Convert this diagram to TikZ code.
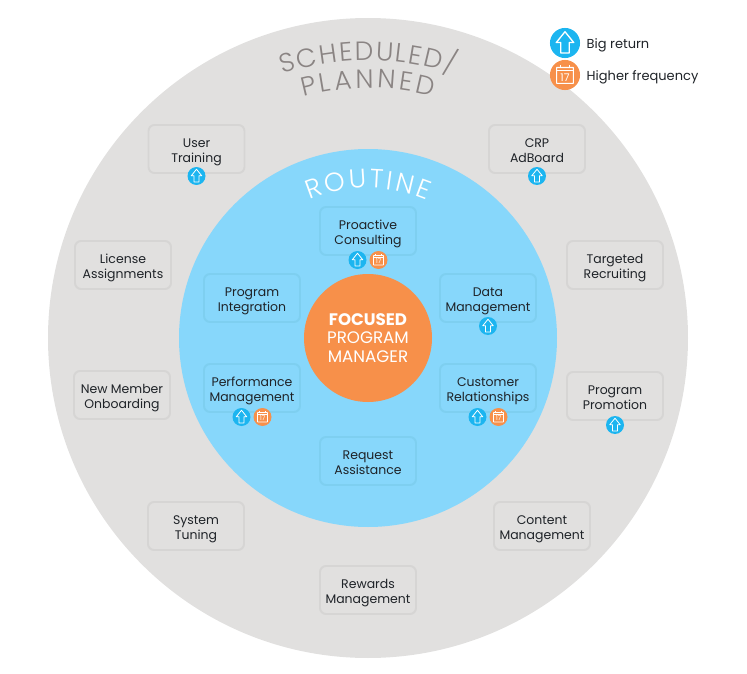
\documentclass[tikz,border=0pt]{standalone}
\usepackage{fontspec}
\setmainfont{Poppins}
\newfontfamily\thinfont{Poppins Light}
\usetikzlibrary{positioning, decorations.text}

\definecolor{outerGray}{HTML}{E1E0DF}
\definecolor{outerEdge}{HTML}{D6D5D4}
\definecolor{routineBlue}{HTML}{87D7FB}
\definecolor{routineEdge}{HTML}{7ECFF0}
\definecolor{focusOrange}{HTML}{F7904A}
\definecolor{arrowBlue}{HTML}{1CB5F0}
\definecolor{titleGray}{HTML}{8A8483}
\definecolor{inkBlack}{HTML}{1F2328}

\begin{document}
\begin{tikzpicture}[
        on grid,
        ring/.style={circle, inner sep=0pt},
        box/.style={rectangle, rounded corners=0.12cm, minimum width=1.92cm, minimum height=0.96cm, align=center, inner sep=0pt, font=\fontsize{7.1}{8.5}\selectfont, text=inkBlack, text height=17.5pt, text depth=2pt},
        graybox/.style={box, fill=outerGray, draw=outerEdge, line width=1.1pt},
        bluebox/.style={box, fill=routineBlue, draw=routineEdge, line width=1.1pt},
        upbadge/.style={circle, inner sep=0pt, fill=arrowBlue, minimum size=#1*0.36cm,
            path picture={\begin{scope}[shift={(path picture bounding box.center)}, x=#1cm, y=#1cm]
                \draw[white, line width=#1*0.45pt, line join=round] (0,0.135) -- (0.105,0.005) -- (0.05,0.005) -- (0.05,-0.12) -- (-0.05,-0.12) -- (-0.05,0.005) -- (-0.105,0.005) -- cycle;
            \end{scope}}},
        upbadge/.default=1,
        calbadge/.style={circle, inner sep=0pt, fill=focusOrange, minimum size=#1*0.36cm,
            path picture={\begin{scope}[shift={(path picture bounding box.center)}, x=#1cm, y=#1cm]
                \draw[white, line width=#1*0.4pt, rounded corners=0.2pt] (-0.1,-0.1) rectangle (0.1,0.09);
                \draw[white, line width=#1*0.4pt] (-0.1,0.05) -- (0.1,0.05) (-0.055,0.09) -- (-0.055,0.125) (0.055,0.09) -- (0.055,0.125);
                \node[white, inner sep=0pt, scale=#1, font=\fontsize{3.6}{4}\selectfont] at (0,-0.03) {17};
            \end{scope}}},
        calbadge/.default=1,
        legendlabel/.style={anchor=west, inner sep=0pt, yshift=-1.2pt, font=\fontsize{7.4}{9}\selectfont, text=inkBlack},
        outertitle/.style={decorate, decoration={text along path, text align={fit to path}, text color=titleGray, text={|\thinfont\fontsize{15}{17}\selectfont|#1}}},
        innertitle/.style={decorate, decoration={text along path, text align={fit to path}, text color=white, text={|\thinfont\fontsize{15}{17}\selectfont|#1}}}
        ]

        \useasboundingbox (0,0) rectangle (14.94,-13.48);

        \node (outerRing) [ring, fill=outerGray, minimum size=12.8cm] at (7.36,-6.76) {};
        \node (routineRing) [ring, fill=routineBlue, minimum size=7.56cm] at (outerRing.center) {};
        \node (focus) [ring, fill=focusOrange, minimum size=2.56cm, align=center, text=white, font=\fontsize{9.5}{10.5}\selectfont] at (outerRing.center) {\textbf{FOCUSED}\\PROGRAM\\MANAGER};

        % curved titles
        \path[outertitle={SCHEDULED/}] ([shift={(108:5.55)}]focus.center) arc (108:72:5.55);
        \path[outertitle={PLANNED}] ([shift={(105:5)}]focus.center) arc (105:75:5);
        \path[innertitle={ROUTINE}] ([shift={(113:3)}]focus.center) arc (113:67:3);

        % inner ring
        \node (boxProactive) [bluebox, above=2.14cm of focus] {Proactive\\Consulting};
        \node (boxIntegration) [bluebox, above left=0.8cm and 2.32cm of focus] {Program\\Integration};
        \node (boxData) [bluebox, above right=0.8cm and 2.4cm of focus] {Data\\Management};
        \node (boxPerformance) [bluebox, below left=1cm and 2.32cm of focus] {Performance\\Management};
        \node (boxCustomer) [bluebox, below right=1cm and 2.4cm of focus] {Customer\\Relationships};
        \node (boxRequest) [bluebox, below=2.46cm of focus] {Request\\Assistance};

        % outer ring
        \node (boxUser) [graybox, above left=3.78cm and 3.43cm of focus] {User\\Training};
        \node (boxCrp) [graybox, above right=3.78cm and 3.38cm of focus] {CRP\\AdBoard};
        \node (boxLicense) [graybox, above left=1.46cm and 4.9cm of focus] {License\\Assignments};
        \node (boxTargeted) [graybox, above right=1.46cm and 4.94cm of focus] {Targeted\\Recruiting};
        \node (boxMember) [graybox, below left=1.14cm and 4.92cm of focus] {New Member\\Onboarding};
        \node (boxPromotion) [graybox, below right=1.16cm and 4.94cm of focus] {Program\\Promotion};
        \node (boxSystem) [graybox, below left=3.76cm and 3.44cm of focus] {System\\Tuning};
        \node (boxContent) [graybox, below right=3.76cm and 3.48cm of focus] {Content\\Management};
        \node (boxRewards) [graybox, below=5.04cm of focus] {Rewards\\Management};

        % badges
        \node (upUser) [upbadge, below=0.54cm of boxUser] {};
        \node (upCrp) [upbadge, below=0.54cm of boxCrp] {};
        \node (upPromotion) [upbadge, below=0.58cm of boxPromotion] {};
        \node (upData) [upbadge, below=0.56cm of boxData] {};
        \node (upProactive) [upbadge, below left=0.58cm and 0.21cm of boxProactive] {};
        \node (calProactive) [calbadge, below right=0.58cm and 0.21cm of boxProactive] {};
        \node (upPerformance) [upbadge, below left=0.58cm and 0.21cm of boxPerformance] {};
        \node (calPerformance) [calbadge, below right=0.58cm and 0.21cm of boxPerformance] {};
        \node (upCustomer) [upbadge, below left=0.58cm and 0.21cm of boxCustomer] {};
        \node (calCustomer) [calbadge, below right=0.58cm and 0.21cm of boxCustomer] {};

        % legend
        \node (legendUp) [upbadge=1.67] at (11.3,-0.86) {};
        \node (legendCal) [calbadge=1.67, below=0.64cm of legendUp] {};
        \node (legendUpText) [legendlabel, on grid=false, right=0.12cm of legendUp] {Big return};
        \node (legendCalText) [legendlabel, on grid=false, right=0.12cm of legendCal] {Higher frequency};

    \end{tikzpicture}
\end{document}
